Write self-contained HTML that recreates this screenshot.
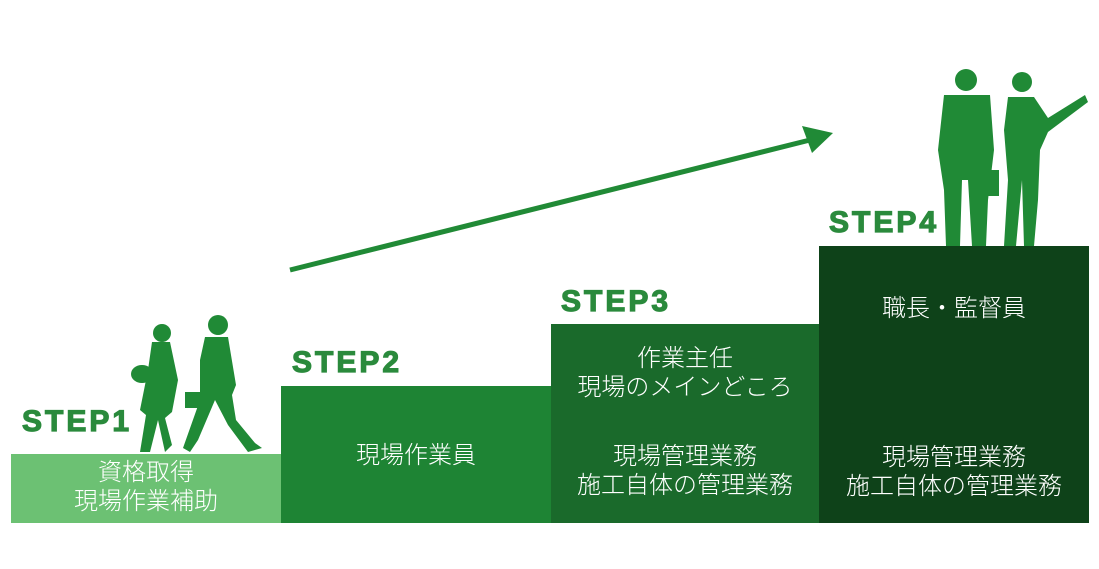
<!DOCTYPE html>
<html><head><meta charset="utf-8"><style>
body{margin:0;width:1099px;height:569px;background:#fff;position:relative;overflow:hidden;font-family:"Liberation Sans","Noto Sans CJK JP",sans-serif}
.b{position:absolute;color:#fff;text-align:center;font-size:24px;line-height:29px;font-weight:300}
.s{position:absolute;color:#2a8a3c;font-weight:bold;font-size:30px;font-family:"Liberation Sans",sans-serif;letter-spacing:3px;-webkit-text-stroke:1.2px #2a8a3c}
</style></head><body>
<div class="b" style="left:11px;top:454px;width:270px;height:69px;background:#6cc173;padding-top:4px;box-sizing:border-box">資格取得<br>現場作業補助</div>
<div class="b" style="left:281px;top:386px;width:270px;height:137px;background:#1e8434;padding-top:55px;box-sizing:border-box">現場作業員</div>
<div class="b" style="left:551px;top:324px;width:268px;height:199px;background:#1a6a2b;padding-top:20px;box-sizing:border-box">作業主任<br>現場のメインどころ<div style="height:40px"></div>現場管理業務<br>施工自体の管理業務</div>
<div class="b" style="left:819px;top:246px;width:270px;height:277px;background:#0e4219;padding-top:48px;box-sizing:border-box">職長・監督員<div style="height:120px"></div>現場管理業務<br>施工自体の管理業務</div>
<div class="s" style="left:22px;top:405px">STEP1</div>
<div class="s" style="left:292px;top:346px">STEP2</div>
<div class="s" style="left:561px;top:285px">STEP3</div>
<div class="s" style="left:829px;top:206px">STEP4</div>
<svg width="1099" height="569" style="position:absolute;left:0;top:0">
<g fill="#208a36">
<line x1="290" y1="270" x2="810" y2="140" stroke="#208a36" stroke-width="5"/>
<polygon points="833,133 802,126 812,153"/>
<circle cx="162" cy="333" r="9"/>
<path d="M152,342 L170,342 L178,380 L172,412 L165,418 L172,445 L165,452 L158,420 L150,452 L140,452 L146,415 L140,410 L148,370 Z"/>
<ellipse cx="142" cy="374" rx="11" ry="9"/>
<circle cx="218" cy="325" r="10"/>
<path d="M205,337 L228,337 L236,385 L232,395 L236,420 L255,443 L262,448 L248,452 L228,425 L215,400 L198,440 L190,452 L183,448 L200,400 L200,360 Z"/>
<rect x="185" y="392" width="18" height="16"/>
<circle cx="966" cy="80" r="11"/>
<path d="M944,95 L990,95 L994,150 L988,200 L986,246 L972,246 L968,180 L962,180 L960,246 L946,246 L944,190 L938,150 Z"/>
<rect x="985" y="170" width="14" height="26"/>
<circle cx="1022" cy="82" r="10"/>
<path d="M1008,97 L1034,97 L1048,118 L1085,95 L1088,102 L1048,132 L1040,150 L1038,200 L1034,246 L1024,246 L1022,180 L1016,246 L1004,246 L1008,180 L1004,130 Z"/>
</g>
</svg>
</body></html>
